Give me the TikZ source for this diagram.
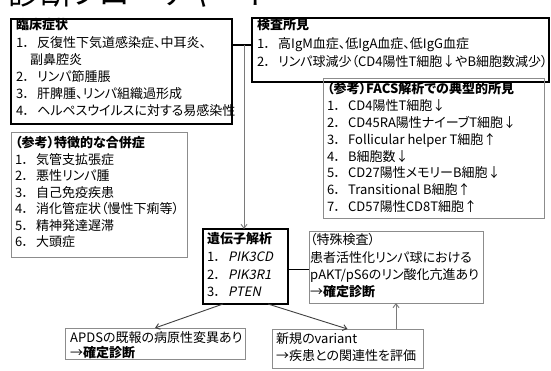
\documentclass[tikz,border=0pt]{standalone}
\usepackage{fontspec}
\setmainfont{Noto Sans CJK JP}[RawFeature=+palt]
\newfontfamily\genefont{Noto Sans CJK JP}[FakeSlant=0.2]
\usetikzlibrary{arrows.meta}
\newcommand\nm[1]{\makebox[21pt][l]{#1．}}
\definecolor{boxgray}{HTML}{8C8C8C}
\definecolor{arrgray}{HTML}{7A7A7A}
\tikzset{
  thickbox/.style={draw=black, line width=2pt, anchor=north west, inner sep=0pt, outer sep=0pt},
  thinbox/.style={draw=boxgray, line width=0.8pt, anchor=north west, inner sep=0pt, outer sep=0pt},
  txt/.style={anchor=north west, inner sep=0pt, align=left, font=\fontsize{13}{17.2}\selectfont},
  garrow/.style={arrgray, line width=0.9pt, -{Straight Barb[length=4pt,width=6pt]}},
  darrow/.style={black!75, line width=0.9pt, -{Straight Barb[length=4pt,width=6pt]}},
}
\begin{document}
\begin{tikzpicture}[x=1pt,y=-1pt]
\fill[white] (0,0) rectangle (551,371);
\useasboundingbox (0,0) rectangle (551,371);
% clipped title
\begin{scope}
\clip (0,0) rectangle (551,10);
\node[anchor=base west, inner sep=0pt, font=\fontsize{32}{32}\selectfont] (title) at (8,5) {診断フローチャート};
\end{scope}
% boxes
\node[thickbox, minimum width=221, minimum height=105] (clin) at (11,19) {};
\node[txt] (clint) at (16,18.5) {\textbf{臨床症状}\\
\nm{1}反復性下気道感染症、中耳炎、\\
\hspace{14pt}副鼻腔炎\\
\nm{2}リンパ節腫脹\\
\nm{3}肝脾腫、リンパ組織過形成\\
\nm{4}ヘルペスウイルスに対する易感染性};

\node[thickbox, minimum width=297, minimum height=64] (exam) at (252,18) {};
\node[txt, font=\fontsize{13}{18.5}\selectfont] (examt) at (257,18.5) {\textbf{検査所見}\\
\nm{1}高IgM血症、低IgA血症、低IgG血症\\
\nm{2}リンパ球減少（CD4陽性T細胞↓やB細胞数減少）};

\node[thinbox, minimum width=221, minimum height=140] (facs) at (323,78) {};
\node[txt, font=\fontsize{13}{16.8}\selectfont] (facst) at (327,82.5) {\textbf{（参考）FACS解析での典型的所見}\\
\nm{1}CD4陽性T細胞↓\\
\nm{2}CD45RA陽性ナイーブT細胞↓\\
\nm{3}Follicular helper T細胞↑\\
\nm{4}B細胞数↓\\
\nm{5}CD27陽性メモリーB細胞↓\\
\nm{6}Transitional B細胞↑\\
\nm{7}CD57陽性CD8T細胞↑};

\node[thinbox, minimum width=176, minimum height=125] (comp) at (11,132) {};
\node[txt, font=\fontsize{13}{16.5}\selectfont] (compt) at (15,136.5) {\textbf{（参考）特徴的な合併症}\\
\nm{1}気管支拡張症\\
\nm{2}悪性リンパ腫\\
\nm{3}自己免疫疾患\\
\nm{4}消化管症状（慢性下痢等）\\
\nm{5}精神発達遅滞\\
\nm{6}大頭症};

\node[thickbox, minimum width=85, minimum height=75] (gene) at (203,229) {};
\node[txt, font=\fontsize{13}{17.6}\selectfont] (genet) at (207,232.5) {\textbf{遺伝子解析}\\
\nm{1}{\genefont PIK3CD}\\
\nm{2}{\genefont PIK3R1}\\
\nm{3}{\genefont PTEN}};

\node[thinbox, minimum width=174, minimum height=72] (toku) at (309,231) {};
\node[txt, font=\fontsize{13}{17.3}\selectfont] (tokut) at (310,233.5) {（特殊検査）\\
患者活性化リンパ球における\\
pAKT/pS6のリン酸化亢進あり\\
→\textbf{確定診断}};

\node[thinbox, minimum width=180, minimum height=31] (apds) at (65,328) {};
\node[txt, font=\fontsize{13}{15.5}\selectfont] (apdst) at (70,331) {APDSの既報の病原性変異あり\\
→\textbf{確定診断}};

\node[thinbox, minimum width=151, minimum height=39] (shin) at (272,329) {};
\node[txt, font=\fontsize{13}{17}\selectfont] (shint) at (276,332.5) {新規のvariant\\
→疾患との関連性を評価};

% connectors
\coordinate (J) at (244,45);
\draw[line width=1.3pt] (clin.east |- J) -- (exam.west |- J);
\draw[garrow] (J) -- (J |- gene.north);
\draw[line width=1.5pt] ([yshift=-3]gene.east) -- ([yshift=-3]gene.east -| toku.west);
\draw[darrow] ([xshift=20]gene.south west) -- (apds.north);
\draw[darrow] ([xshift=-20]gene.south east) -- (shin.north);
\draw[garrow] (toku.south |- shin.north) -- (toku.south);
\end{tikzpicture}
\end{document}
